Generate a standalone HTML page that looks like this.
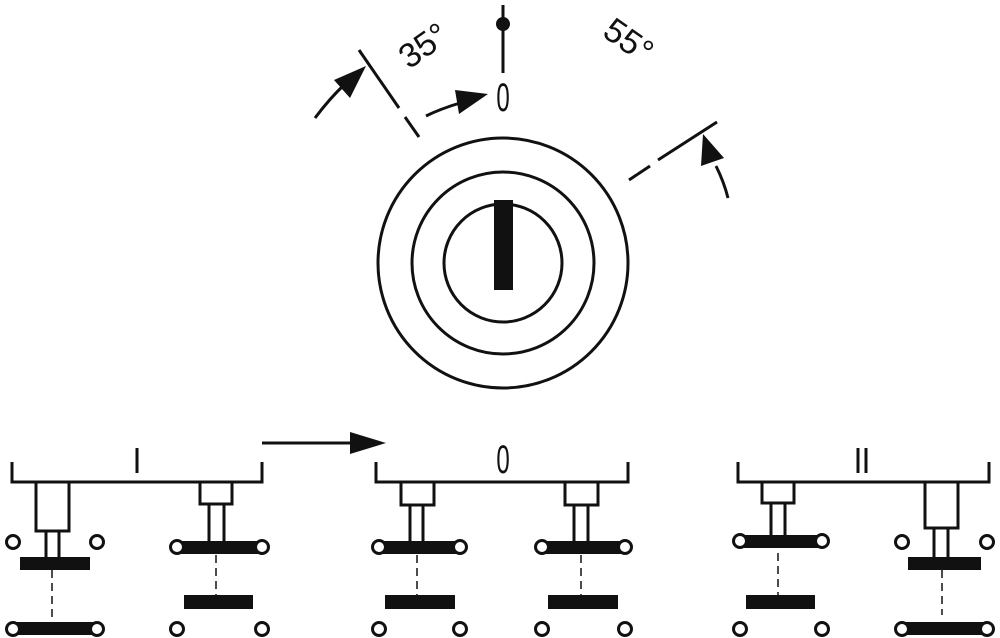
<!DOCTYPE html>
<html><head><meta charset="utf-8"><style>html,body{margin:0;padding:0;background:#fff}svg{display:block}</style></head>
<body>
<svg width="1000" height="638" viewBox="0 0 1000 638" xmlns="http://www.w3.org/2000/svg" font-family="Liberation Sans, sans-serif">
<g stroke="#111" stroke-width="3" fill="none">
<circle cx="503" cy="263" r="125"/>
<circle cx="503" cy="263" r="91"/>
<circle cx="503" cy="263" r="59"/>
<line x1="503" y1="5" x2="503" y2="73"/>
<line x1="359" y1="50" x2="399" y2="108"/>
<line x1="405" y1="117" x2="419" y2="137"/>
<line x1="717" y1="122" x2="658" y2="160"/>
<line x1="650" y1="166" x2="629" y2="180"/>
<path d="M315,118 Q330,98 345,84"/>
<path d="M426,116 Q440,109 460,103"/>
<path d="M728,198 Q724,182 716,166"/>
<line x1="262" y1="443" x2="356" y2="443"/>
</g>
<rect x="494" y="200" width="19" height="90" fill="#111"/>
<circle cx="503" cy="24" r="7" fill="#111"/>
<polygon points="366,66 334,80 350,98" fill="#111"/>
<polygon points="488,94 455,90 459,114" fill="#111"/>
<polygon points="703,134 701,166 724,158" fill="#111"/>
<polygon points="386,443 350,432 350,454" fill="#111"/>
<text x="0" y="0" font-size="34" transform="translate(430,55) rotate(-35)" text-anchor="middle" fill="#111">35°</text>
<text x="0" y="0" font-size="34" transform="translate(622,50) rotate(35)" text-anchor="middle" fill="#111">55°</text>
<text x="0" y="0" font-size="40" text-anchor="middle" fill="#111" transform="translate(503,111) scale(0.6,1)">0</text>
<text x="0" y="0" font-size="40" text-anchor="middle" fill="#111" transform="translate(503,473) scale(0.6,1)">0</text>
<line x1="137" y1="448" x2="137" y2="473" stroke="#111" stroke-width="3"/>
<line x1="858" y1="448" x2="858" y2="473" stroke="#111" stroke-width="3"/>
<line x1="866" y1="448" x2="866" y2="473" stroke="#111" stroke-width="3"/>
<g stroke="#111" stroke-width="3" fill="none">
<path d="M12,462 V482 H262 V462"/>
<path d="M376,462 V482 H628 V462"/>
<path d="M738,462 V482 H989 V462"/>
<rect x="36" y="482" width="33" height="49"/>
<path d="M46,531 V557 M59,531 V557"/>
<rect x="200" y="482" width="32" height="22"/>
<path d="M209,504 V541 M224,504 V541"/>
<rect x="401" y="482" width="33" height="23"/>
<path d="M410,505 V541 M423,505 V541"/>
<rect x="565" y="482" width="33" height="23"/>
<path d="M574,505 V541 M588,505 V541"/>
<rect x="762" y="482" width="32" height="21"/>
<path d="M771,503 V536 M785,503 V536"/>
<rect x="925" y="482" width="33" height="46"/>
<path d="M934,528 V557 M948,528 V557"/>
</g>
<g stroke="#111" stroke-width="1.5" stroke-dasharray="8,5">
<line x1="52" y1="570" x2="52" y2="622"/>
<line x1="216" y1="555" x2="216" y2="595"/>
<line x1="417" y1="555" x2="417" y2="595"/>
<line x1="581" y1="555" x2="581" y2="595"/>
<line x1="778" y1="553" x2="778" y2="595"/>
<line x1="942" y1="570" x2="942" y2="615"/>
</g>
<g fill="#111">
<rect x="20" y="557" width="70" height="13"/>
<rect x="13" y="622" width="84" height="13"/>
<rect x="177" y="541" width="85" height="13"/>
<rect x="184" y="595" width="69" height="14"/>
<rect x="379" y="541" width="81" height="13"/>
<rect x="385" y="595" width="70" height="14"/>
<rect x="542" y="541" width="83" height="13"/>
<rect x="548" y="595" width="70" height="14"/>
<rect x="740" y="535" width="82" height="13"/>
<rect x="746" y="595" width="69" height="14"/>
<rect x="908" y="557" width="73" height="13"/>
<rect x="902" y="622" width="85" height="13"/>
</g>
<g stroke="#111" stroke-width="3" fill="#fff">
<circle cx="13" cy="542" r="6.5"/><circle cx="97" cy="542" r="6.5"/>
<circle cx="13" cy="629" r="6.5"/><circle cx="97" cy="629" r="6.5"/>
<circle cx="177" cy="547" r="6.5"/><circle cx="262" cy="547" r="6.5"/>
<circle cx="177" cy="629" r="6.5"/><circle cx="262" cy="629" r="6.5"/>
<circle cx="379" cy="547" r="6.5"/><circle cx="460" cy="547" r="6.5"/>
<circle cx="379" cy="629" r="6.5"/><circle cx="460" cy="629" r="6.5"/>
<circle cx="542" cy="547" r="6.5"/><circle cx="625" cy="547" r="6.5"/>
<circle cx="542" cy="629" r="6.5"/><circle cx="625" cy="629" r="6.5"/>
<circle cx="740" cy="541" r="6.5"/><circle cx="822" cy="541" r="6.5"/>
<circle cx="740" cy="629" r="6.5"/><circle cx="822" cy="629" r="6.5"/>
<circle cx="902" cy="542" r="6.5"/><circle cx="987" cy="542" r="6.5"/>
<circle cx="902" cy="629" r="6.5"/><circle cx="987" cy="629" r="6.5"/>
</g>
</svg>
</body></html>
